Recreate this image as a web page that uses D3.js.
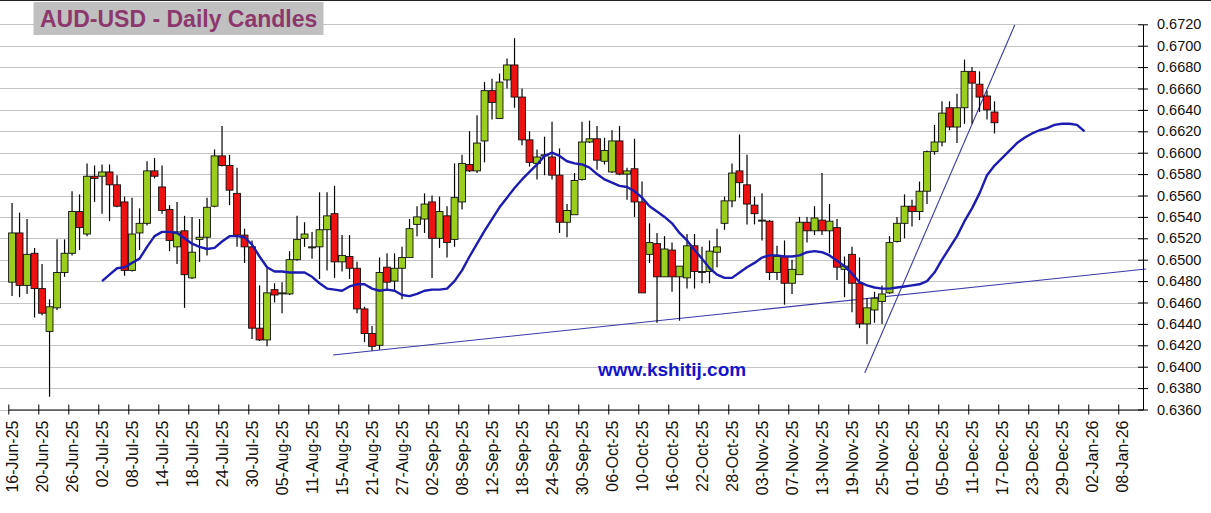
<!DOCTYPE html>
<html><head><meta charset="utf-8">
<script src="https://cdn.jsdelivr.net/npm/d3@7"></script>
<style>body{margin:0;background:#fff;} svg{display:block;font-family:"Liberation Sans",Arial,sans-serif;}</style>
</head><body><svg id="c" width="1211" height="513"></svg>
<script>
const tickLabels = ["16-Jun-25","20-Jun-25","26-Jun-25","02-Jul-25","08-Jul-25","14-Jul-25","18-Jul-25","24-Jul-25","30-Jul-25","05-Aug-25","11-Aug-25","15-Aug-25","21-Aug-25","27-Aug-25","02-Sep-25","08-Sep-25","12-Sep-25","18-Sep-25","24-Sep-25","30-Sep-25","06-Oct-25","10-Oct-25","16-Oct-25","22-Oct-25","28-Oct-25","03-Nov-25","07-Nov-25","13-Nov-25","19-Nov-25","25-Nov-25","01-Dec-25","05-Dec-25","11-Dec-25","17-Dec-25","23-Dec-25","29-Dec-25","02-Jan-26","08-Jan-26"];

const open  = [0.6479,0.6525,0.6476,0.6506,0.6473,0.6433,0.6455,0.6488,0.6506,0.6545,0.6524,0.6578,0.6578,0.6582,0.6570,0.6554,0.6490,0.6525,0.6534,0.6583,0.6568,0.6547,0.6512,0.6527,0.6483,0.6519,0.6521,0.6550,0.6597,0.6588,0.6562,0.6523,0.6512,0.6436,0.6425,0.6472,0.6469,0.6468,0.6500,0.6520,0.6512,0.6512,0.6528,0.6543,0.6498,0.6503,0.6492,0.6454,0.6431,0.6420,0.6493,0.6480,0.6492,0.6502,0.6533,0.6538,0.6554,0.6520,0.6541,0.6519,0.6554,0.6589,0.6583,0.6611,0.6658,0.6632,0.6668,0.6682,0.6652,0.6612,0.6590,0.6597,0.6596,0.6579,0.6535,0.6542,0.6575,0.6610,0.6613,0.6592,0.6582,0.6611,0.6580,0.6585,0.6554,0.6505,0.6515,0.6484,0.6509,0.6484,0.6483,0.6513,0.6489,0.6489,0.6507,0.6534,0.6555,0.6583,0.6570,0.6551,0.6537,0.6536,0.6488,0.6503,0.6478,0.6486,0.6535,0.6527,0.6537,0.6527,0.6530,0.6491,0.6505,0.6478,0.6440,0.6453,0.6461,0.6469,0.6517,0.6534,0.6550,0.6545,0.6564,0.6601,0.6610,0.6642,0.6624,0.6642,0.6676,0.6664,0.6653,0.6638];
const high  = [0.6553,0.6544,0.6538,0.6511,0.6496,0.6463,0.6519,0.6519,0.6564,0.6561,0.6590,0.6588,0.6589,0.6589,0.6579,0.6559,0.6558,0.6548,0.6592,0.6595,0.6588,0.6551,0.6554,0.6541,0.6540,0.6538,0.6558,0.6603,0.6625,0.6598,0.6586,0.6529,0.6518,0.6476,0.6492,0.6478,0.6479,0.6508,0.6541,0.6535,0.6526,0.6563,0.6563,0.6569,0.6523,0.6523,0.6498,0.6456,0.6438,0.6502,0.6506,0.6506,0.6512,0.6538,0.6550,0.6562,0.6560,0.6559,0.6550,0.6590,0.6598,0.6620,0.6635,0.6666,0.6669,0.6674,0.6688,0.6707,0.6660,0.6620,0.6603,0.6615,0.6629,0.6604,0.6552,0.6581,0.6629,0.6630,0.6625,0.6614,0.6621,0.6625,0.6586,0.6613,0.6573,0.6534,0.6525,0.6522,0.6516,0.6494,0.6524,0.6524,0.6512,0.6518,0.6529,0.6559,0.6590,0.6617,0.6598,0.6559,0.6562,0.6537,0.6513,0.6518,0.6500,0.6540,0.6540,0.6550,0.6581,0.6552,0.6538,0.6503,0.6512,0.6502,0.6464,0.6470,0.6476,0.6522,0.6540,0.6561,0.6556,0.6573,0.6602,0.6626,0.6648,0.6648,0.6655,0.6687,0.6680,0.6676,0.6658,0.6648];
const low   = [0.6466,0.6465,0.6468,0.6446,0.6448,0.6372,0.6453,0.6484,0.6504,0.6509,0.6522,0.6554,0.6543,0.6536,0.6549,0.6485,0.6489,0.6509,0.6532,0.6576,0.6543,0.6508,0.6496,0.6455,0.6482,0.6498,0.6504,0.6549,0.6587,0.6551,0.6512,0.6497,0.6426,0.6424,0.6419,0.6460,0.6450,0.6467,0.6499,0.6512,0.6501,0.6482,0.6490,0.6483,0.6489,0.6482,0.6450,0.6423,0.6415,0.6416,0.6472,0.6470,0.6463,0.6502,0.6522,0.6525,0.6483,0.6511,0.6502,0.6512,0.6547,0.6582,0.6581,0.6591,0.6631,0.6632,0.6660,0.6642,0.6607,0.6587,0.6575,0.6579,0.6575,0.6525,0.6521,0.6542,0.6574,0.6609,0.6584,0.6589,0.6581,0.6579,0.6556,0.6540,0.6469,0.6497,0.6441,0.6484,0.6470,0.6443,0.6473,0.6473,0.6478,0.6478,0.6493,0.6528,0.6549,0.6558,0.6533,0.6533,0.6518,0.6481,0.6481,0.6458,0.6468,0.6486,0.6516,0.6523,0.6523,0.6506,0.6481,0.6465,0.6451,0.6436,0.6421,0.6441,0.6440,0.6468,0.6516,0.6520,0.6531,0.6537,0.6552,0.6598,0.6606,0.6621,0.6609,0.6627,0.6627,0.6638,0.6631,0.6618];
const close = [0.6525,0.6476,0.6505,0.6473,0.6450,0.6456,0.6488,0.6506,0.6545,0.6530,0.6578,0.6576,0.6582,0.6570,0.6550,0.6490,0.6524,0.6534,0.6583,0.6578,0.6546,0.6518,0.6526,0.6486,0.6507,0.6521,0.6549,0.6597,0.6588,0.6565,0.6523,0.6512,0.6436,0.6425,0.6469,0.6467,0.6469,0.6500,0.6519,0.6524,0.6512,0.6528,0.6541,0.6498,0.6504,0.6492,0.6454,0.6431,0.6419,0.6488,0.6479,0.6492,0.6502,0.6529,0.6540,0.6552,0.6520,0.6545,0.6516,0.6558,0.6590,0.6583,0.6609,0.6658,0.6647,0.6666,0.6682,0.6652,0.6612,0.6591,0.6596,0.6598,0.6579,0.6535,0.6546,0.6574,0.6610,0.6613,0.6593,0.6602,0.6611,0.6580,0.6583,0.6554,0.6469,0.6516,0.6484,0.6510,0.6484,0.6494,0.6513,0.6489,0.6489,0.6508,0.6512,0.6555,0.6581,0.6572,0.6552,0.6543,0.6537,0.6488,0.6503,0.6478,0.6491,0.6535,0.6527,0.6539,0.6527,0.6536,0.6493,0.6494,0.6478,0.6440,0.6455,0.6464,0.6468,0.6516,0.6534,0.6550,0.6545,0.6564,0.6601,0.6610,0.6637,0.6624,0.6642,0.6676,0.6665,0.6652,0.6640,0.6628];

const maStart = 12;
const ma = [0.6480,0.6486,0.6492,0.6493,0.6497,0.6501,0.6512,0.6522,0.6526,0.6526,0.6525,0.6520,0.6515,0.6512,0.6510,0.6511,0.6517,0.6522,0.6522,0.6521,0.6514,0.6503,0.6493,0.6489,0.6489,0.6488,0.6488,0.6488,0.6484,0.6478,0.6473,0.6472,0.6471,0.6475,0.6477,0.6477,0.6473,0.6471,0.6472,0.6471,0.6467,0.6466,0.6468,0.6471,0.6472,0.6472,0.6473,0.6480,0.6490,0.6503,0.6515,0.6527,0.6538,0.6549,0.6558,0.6567,0.6575,0.6582,0.6589,0.6597,0.6600,0.6597,0.6592,0.6590,0.6589,0.6586,0.6580,0.6575,0.6572,0.6569,0.6568,0.6564,0.6558,0.6550,0.6545,0.6540,0.6534,0.6525,0.6518,0.6509,0.6501,0.6492,0.6486,0.6483,0.6483,0.6488,0.6493,0.6497,0.6502,0.6504,0.6504,0.6503,0.6503,0.6504,0.6507,0.6508,0.6507,0.6504,0.6499,0.6494,0.6487,0.6479,0.6476,0.6474,0.6473,0.6473,0.6474,0.6475,0.6476,0.6477,0.6480,0.6488,0.6500,0.6511,0.6522,0.6536,0.6548,0.6562,0.6579,0.6588,0.6595,0.6602,0.6609,0.6614,0.6618,0.6621,0.6623,0.6626,0.6627,0.6627,0.6626,0.6620];

const trendLong  = [[43.3, 0.64109], [151.7, 0.64913]];
const trendSteep = [[114.2, 0.63941], [134.2, 0.67193]];

const yMin = 0.6360, yMax = 0.6720, yStep = 0.0020;

const svg = d3.select("#c");
const W = 1211, H = 513;
const x = d3.scaleLinear().domain([0, 151.3]).range([8.3, 1143]);
const y = d3.scaleLinear().domain([yMin, yMax]).range([409.5, 24.3]);
const yTicks = d3.range(0, 19).map(k => +(yMin + k * yStep).toFixed(4));

// top border
svg.append("line").attr("x1", 0).attr("x2", W).attr("y1", 0.5).attr("y2", 0.5)
  .attr("stroke", "#222").attr("stroke-width", 1);

// gridlines
svg.append("g").selectAll("line").data(yTicks).join("line")
  .attr("x1", 0).attr("x2", x.range()[1])
  .attr("y1", d => Math.round(y(d)) + 0.5).attr("y2", d => Math.round(y(d)) + 0.5)
  .attr("stroke", "#c4c4c4").attr("stroke-width", 1.2);

// trendlines
const tl = d3.line().x(d => x(d[0])).y(d => y(d[1]));
[trendLong, trendSteep].forEach(t => {
  svg.append("path").attr("d", tl(t)).attr("fill", "none")
    .attr("stroke", "#3a3aa8").attr("stroke-width", 1.1);
});

// candles
const idx = d3.range(open.length);
const cg = svg.append("g");
cg.selectAll("line.w").data(idx).join("line").attr("class", "w")
  .attr("x1", i => x(i + 0.5)).attr("x2", i => x(i + 0.5))
  .attr("y1", i => y(high[i])).attr("y2", i => y(low[i]))
  .attr("stroke", "#000").attr("stroke-width", 1.2);
cg.selectAll("rect").data(idx).join("rect")
  .attr("x", i => x(i) + 0.3)
  .attr("width", x(1) - x(0) - 0.6)
  .attr("y", i => y(Math.max(open[i], close[i])))
  .attr("height", i => Math.max(1, Math.abs(y(open[i]) - y(close[i]))))
  .attr("fill", i => close[i] >= open[i] ? "#9acd1e" : "#ee1111")
  .attr("stroke", "#111").attr("stroke-width", 0.9);

// moving average
const maLine = d3.line().x((d, k) => x(maStart + k + 0.5)).y(d => y(d)).curve(d3.curveLinear);
svg.append("path").attr("d", maLine(ma)).attr("fill", "none")
  .attr("stroke", "#1c1cb0").attr("stroke-width", 2.4).attr("stroke-linejoin", "round");

// y axis
const yAxis = d3.axisRight(y).tickValues(yTicks).tickFormat(d3.format(".4f"))
  .tickSizeInner(5).tickSizeOuter(0).tickPadding(9);
const ya = svg.append("g").attr("transform", `translate(${x.range()[1]},0)`).call(yAxis);
ya.select(".domain").attr("stroke", "#000");
ya.selectAll(".tick line").attr("x1", -5).attr("stroke", "#000");
ya.selectAll(".tick text").attr("font-size", 14.5).attr("fill", "#111")
  .attr("font-family", "'Liberation Sans', Arial, sans-serif");

// x axis
const xTickVals = tickLabels.map((d, k) => k * 4);
const xAxis = d3.axisBottom(x).tickValues(xTickVals).tickFormat((d, k) => tickLabels[k])
  .tickSizeInner(5).tickSizeOuter(0);
const xa = svg.append("g").attr("transform", `translate(0,${y(yMin)})`).call(xAxis);
xa.select(".domain").attr("stroke", "#000");
xa.selectAll(".tick line").attr("y1", -5).attr("stroke", "#000");
xa.selectAll(".tick text")
  .attr("font-size", 16).attr("fill", "#111")
  .attr("font-family", "'Liberation Sans', Arial, sans-serif")
  .attr("text-anchor", "end").attr("dy", null).attr("y", null)
  .attr("transform", "translate(9,11) rotate(-90)");

// title
svg.append("rect").attr("x", 33.5).attr("y", 2).attr("width", 290).attr("height", 33)
  .attr("fill", "#c0c0c0");
svg.append("text").attr("x", 40).attr("y", 26.5).text("AUD-USD - Daily Candles")
  .attr("font-size", 23).attr("font-weight", "bold").attr("fill", "#8c386c");

// watermark
svg.append("text").attr("x", 598).attr("y", 376).text("www.kshitij.com")
  .attr("font-size", 19).attr("font-weight", "bold").attr("fill", "#1414c8");
</script></body></html>
